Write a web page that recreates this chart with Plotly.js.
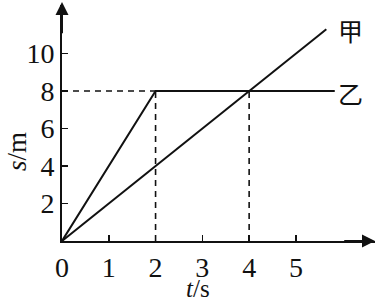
<!DOCTYPE html>
<html><head><meta charset="utf-8">
<script src="https://cdn.plot.ly/plotly-3.0.1.min.js"></script>
<style>html,body{margin:0;padding:0;background:#fff}</style>
</head><body>
<div id="chart" style="width:381px;height:303px"></div>
<script>
// data
var jiaT = [0, 5.65];
var jiaS = [0, 11.3];
var yiT = [0, 2, 5.83];
var yiS = [0, 8, 8];
var guideH_T = [0, 2];
var guideH_S = [8, 8];
var guide2_T = [2, 2];
var guide2_S = [0, 8];
var guide4_T = [4, 4];
var guide4_S = [0, 8];
var xTickVals = [0, 1, 2, 3, 4, 5];
var xTickText = ['0', '1', '2', '3', '4', '5'];
var yTickVals = [2, 4, 6, 8, 10];
var yTickText = ['2', '4', '6', '8', '10'];
var seriesNames = ['甲', '乙'];

var black = '#111';
var lineW = 2;
var dash = {color: black, width: 1.6, dash: '6px,5px'};
var traces = [
  {x: guideH_T, y: guideH_S, mode: 'lines', line: dash, hoverinfo: 'skip', showlegend: false, cliponaxis: false},
  {x: guide2_T, y: guide2_S, mode: 'lines', line: dash, hoverinfo: 'skip', showlegend: false, cliponaxis: false},
  {x: guide4_T, y: guide4_S, mode: 'lines', line: dash, hoverinfo: 'skip', showlegend: false, cliponaxis: false},
  {x: jiaT, y: jiaS, name: seriesNames[0], mode: 'lines', line: {color: black, width: lineW}, showlegend: false, cliponaxis: false},
  {x: yiT, y: yiS, name: seriesNames[1], mode: 'lines', line: {color: black, width: lineW}, showlegend: false, cliponaxis: false}
];

var serif = 'Liberation Serif';
var tf = {family: serif, size: 28, color: black};
var layout = {
  width: 381, height: 303,
  margin: {l: 62, r: 6, t: 5, b: 62},
  paper_bgcolor: '#fff', plot_bgcolor: '#fff',
  showlegend: false,
  font: {family: serif, size: 26, color: black},
  xaxis: {
    range: [0, 6.69], showgrid: false, zeroline: false, automargin: false,
    showline: true, linecolor: black, linewidth: 2,
    tickmode: 'array', tickvals: xTickVals, ticktext: xTickText,
    ticks: 'inside', ticklen: 6, tickwidth: 1.6, tickcolor: black,
    tickfont: tf, fixedrange: true
  },
  yaxis: {
    range: [0, 12.59], showgrid: false, zeroline: false, automargin: false,
    showline: true, linecolor: black, linewidth: 2,
    tickmode: 'array', tickvals: yTickVals, ticktext: yTickText,
    ticks: 'inside', ticklen: 6, tickwidth: 1.6, tickcolor: black,
    tickfont: tf, fixedrange: true
  },
  annotations: [
    {xref: 'x', yref: 'y', x: 6.69, y: 0, ax: 6.0, ay: 0, axref: 'x', ayref: 'y',
     showarrow: true, arrowhead: 2, arrowsize: 1.3, arrowwidth: 2, arrowcolor: black, text: '', standoff: 0},
    {xref: 'x', yref: 'y', x: 0, y: 12.75, ax: 0, ay: 11, axref: 'x', ayref: 'y',
     showarrow: true, arrowhead: 2, arrowsize: 1.3, arrowwidth: 2, arrowcolor: black, text: '', standoff: 0},
    {xref: 'x', yref: 'y', x: 6.16, y: 11.25, text: seriesNames[0], showarrow: false,
     font: {family: 'Noto Sans CJK SC', size: 25, color: black}},
    {xref: 'x', yref: 'y', x: 6.16, y: 7.9, text: seriesNames[1], showarrow: false,
     font: {family: 'Noto Sans CJK SC', size: 25, color: black}},
    {xref: 'x', yref: 'paper', x: 2.9, y: 0, yanchor: 'bottom', yshift: -62, text: '<i>t</i>/s', showarrow: false,
     borderpad: 0, font: {family: serif, size: 25, color: black}},
    {xref: 'paper', yref: 'y', x: 0, xanchor: 'center', xshift: -45, y: 4.75, text: '<i>s</i>/m', showarrow: false, textangle: -90,
     font: {family: serif, size: 27, color: black}}
  ]
};
Plotly.newPlot('chart', traces, layout, {staticPlot: true, displayModeBar: false});
</script>
</body></html>
